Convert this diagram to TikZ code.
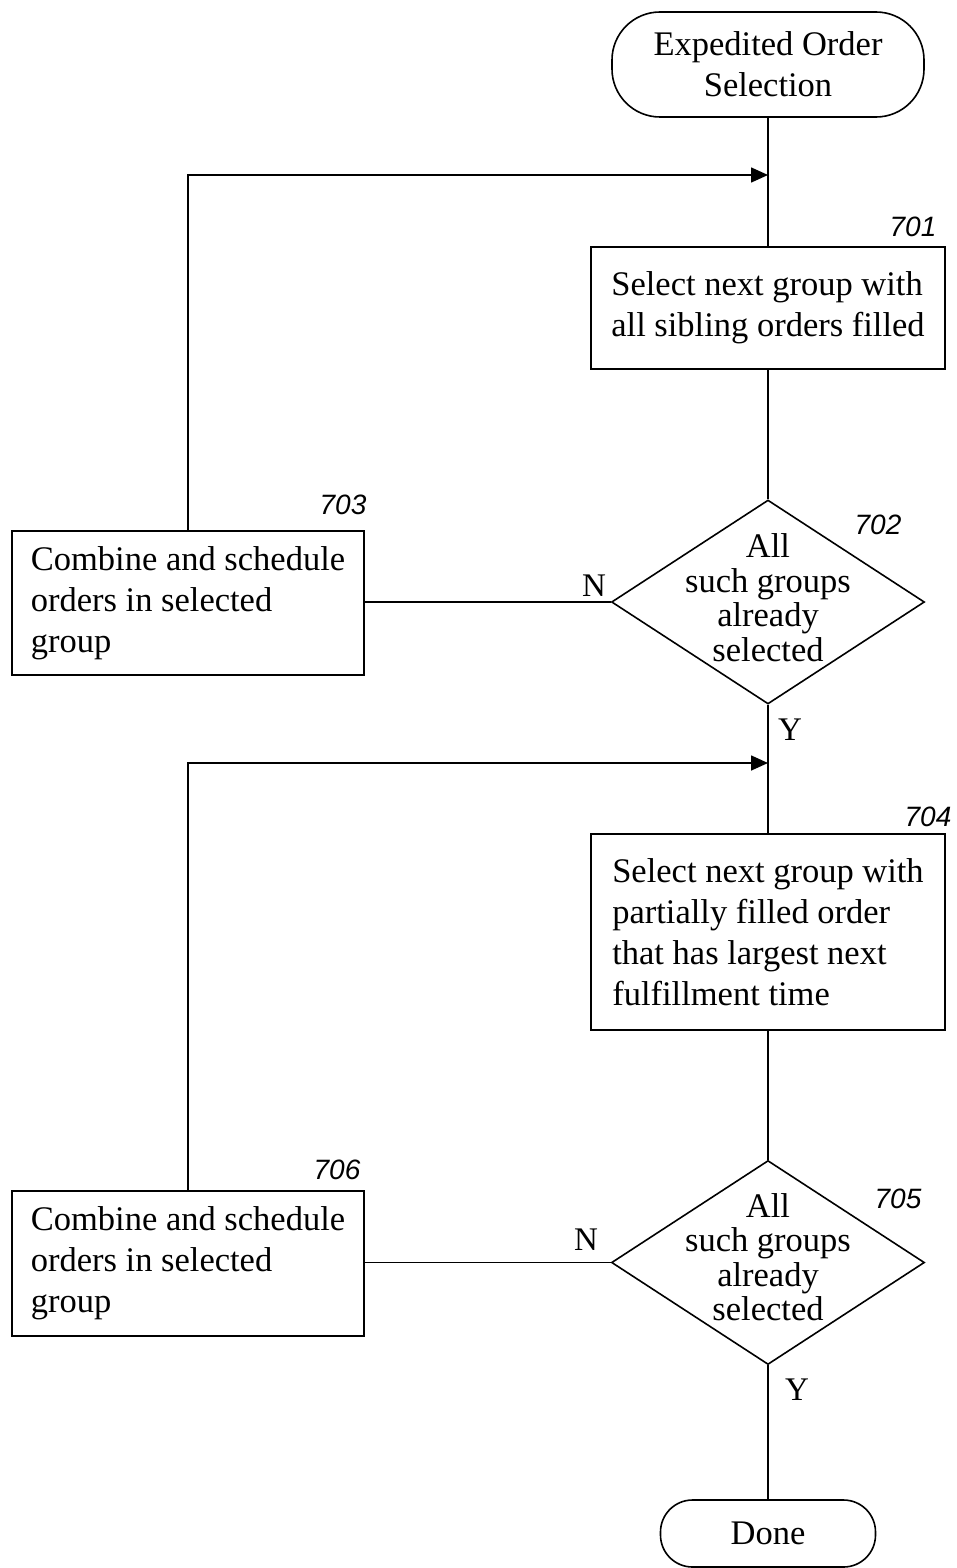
\documentclass[tikz,border=0pt]{standalone}
\usepackage{fontspec}
\setmainfont{Liberation Serif}
\newfontfamily\refnumfont{Liberation Sans}
\usetikzlibrary{shapes.geometric,arrows.meta}

\tikzset{
  line/.style={line width=1.6pt},
  flow/.style={line, -{Triangle[length=17pt,width=15pt]}},
  procbox/.style={draw, line width=1.6pt, rectangle, inner sep=0pt,
    align=left, font=\fontsize{34.5}{41}\selectfont},
  terminal/.style={draw, line width=1.6pt, rectangle, inner sep=0pt,
    align=center, font=\fontsize{34.5}{41}\selectfont},
  decision/.style={draw, line width=1.6pt, diamond, inner sep=0pt,
    minimum width=313pt, minimum height=204pt},
  dtext/.style={align=center, inner sep=0pt, font=\fontsize{34.5}{34.5}\selectfont},
  refnum/.style={inner sep=0pt, font=\refnumfont\itshape\fontsize{28}{30}\selectfont},
  yn/.style={inner sep=0pt, font=\fontsize{33}{36}\selectfont}
}

\begin{document}
\begin{tikzpicture}[x=1pt,y=-1pt]
\useasboundingbox (0,0) rectangle (956,1568);

% start / end terminals
\node[terminal, minimum width=312pt, minimum height=105pt, rounded corners=48pt]
  (start) at (768,64.5) {Expedited Order\\Selection};
\node[terminal, minimum width=215pt, minimum height=67pt, rounded corners=32pt]
  (done) at (768,1533.5) {Done};

% merge points of the two loops
\coordinate (m1) at (768,175);
\coordinate (m2) at (768,763);

% process boxes
\node[procbox, minimum width=354pt, minimum height=122pt] (b701) at (768,308)
  {Select next group with\\all sibling orders filled};
\node[procbox, minimum width=352pt, minimum height=144pt] (b703) at (188,603)
  {Combine and schedule\\orders in selected\\group};
\node[procbox, minimum width=354pt, minimum height=196pt] (b704) at (768,932)
  {Select next group with\\partially filled order\\that has largest next\\fulfillment time};
\node[procbox, minimum width=352pt, minimum height=145pt] (b706) at (188,1263.5)
  {Combine and schedule\\orders in selected\\group};

% decisions
\node[decision] (d702) at (768,602) {};
\node[dtext] (t702) at (768,597.5) {All\\such groups\\already\\selected};
\node[decision] (d705) at (768,1262.5) {};
\node[dtext] (t705) at (768,1257) {All\\such groups\\already\\selected};

% reference numerals
\node[refnum] (r701) at (913,227) {701};
\node[refnum] (r702) at (878,525) {702};
\node[refnum] (r703) at (343,505) {703};
\node[refnum] (r704) at (928,817) {704};
\node[refnum] (r705) at (898,1199) {705};
\node[refnum] (r706) at (337,1170) {706};

% branch labels
\node[yn] (n702) at (594,586) {N};
\node[yn] (y702) at (790,730) {Y};
\node[yn] (n705) at (586,1240) {N};
\node[yn] (y705) at (797,1390) {Y};

% connectors
\draw[line] (start) -- (b701);
\draw[line] (b701) -- (d702);
\draw[line] (d702.west) -- (b703.east |- d702.west);
\draw[flow] (b703.north) |- (m1);
\draw[line] (d702) -- (b704);
\draw[line] (b704) -- (d705);
\draw[line] (d705.west) -- (b706.east |- d705.west);
\draw[flow] (b706.north) |- (m2);
\draw[line] (d705) -- (done);
\end{tikzpicture}
\end{document}
